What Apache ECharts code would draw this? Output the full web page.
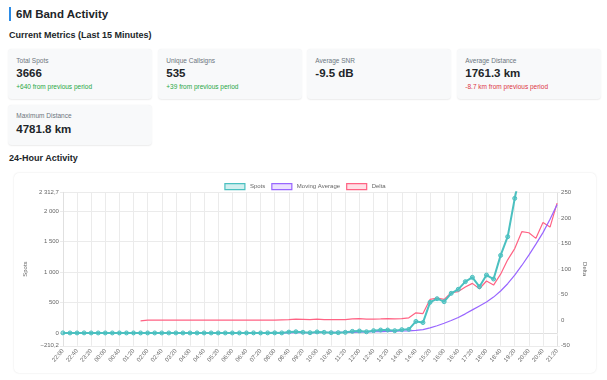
<!DOCTYPE html>
<html><head><meta charset="utf-8">
<script src="https://cdn.jsdelivr.net/npm/echarts@6/dist/echarts.min.js"></script>
<style>
html,body{margin:0;padding:0;background:#fff;width:607px;height:380px;overflow:hidden;font-family:"Liberation Sans",Arial,sans-serif;color:#212529;}
.title{position:absolute;left:9px;top:7px;height:14px;border-left:2.5px solid #2b8be6;padding-left:5px;font-size:11.5px;font-weight:bold;line-height:14px;}
.h2{position:absolute;left:9px;font-size:9px;font-weight:bold;line-height:11px;}
.card{position:absolute;width:144px;height:50px;background:#f8f9fa;border-radius:4px;box-shadow:0 0.5px 1.5px rgba(0,0,0,0.08);}
.lbl{position:absolute;left:8px;top:7.4px;font-size:6.5px;line-height:8px;color:#6c757d;white-space:nowrap;}
.val{position:absolute;left:8px;top:17px;font-size:11.5px;line-height:14px;font-weight:bold;white-space:nowrap;}
.chg{position:absolute;left:8px;top:33.7px;font-size:6.5px;line-height:8px;white-space:nowrap;}
.up{color:#28a745;} .down{color:#dc3545;}
.box{position:absolute;left:14px;top:173px;width:582px;height:200px;background:#fff;border-radius:5px;box-shadow:0 0 2px rgba(0,0,0,0.12);}
#chart{position:absolute;left:14px;top:173px;width:582px;height:200px;}
</style></head>
<body>
<div class="title">6M Band Activity</div>
<div class="h2" style="top:30px">Current Metrics (Last 15 Minutes)</div>
<div class="card" style="left:8.3px;top:49.3px"><div class="lbl">Total Spots</div><div class="val">3666</div><div class="chg up">+640 from previous period</div></div>
<div class="card" style="left:158.3px;top:49.3px"><div class="lbl">Unique Callsigns</div><div class="val">535</div><div class="chg up">+39 from previous period</div></div>
<div class="card" style="left:307.3px;top:49.3px"><div class="lbl">Average SNR</div><div class="val">-9.5 dB</div></div>
<div class="card" style="left:457.3px;top:49.3px"><div class="lbl">Average Distance</div><div class="val">1761.3 km</div><div class="chg down">-8.7 km from previous period</div></div>
<div class="card" style="left:8.3px;top:105px;height:40px"><div class="lbl">Maximum Distance</div><div class="val" style="top:17.3px">4781.8 km</div></div>
<div class="h2" style="top:152.5px">24-Hour Activity</div>
<div class="box"></div>
<div id="chart"></div>
<script>
const times = ["22:00","22:20","22:40","23:00","23:20","23:40","00:00","00:20","00:40","01:00","01:20","01:40","02:00","02:20","02:40","03:00","03:20","03:40","04:00","04:20","04:40","05:00","05:20","05:40","06:00","06:20","06:40","07:00","07:20","07:40","08:00","08:20","08:40","09:00","09:20","09:40","10:00","10:20","10:40","11:00","11:20","11:40","12:00","12:20","12:40","13:00","13:20","13:40","14:00","14:20","14:40","15:00","15:20","15:40","16:00","16:20","16:40","17:00","17:20","17:40","18:00","18:20","18:40","19:00","19:20","19:40","20:00","20:20","20:40","21:00","21:20"];
const spots = [2,1,1,2,1,1,1,1,1,1,1,1,1,1,1,1,1,1,1,1,1,1,1,1,1,1,1,2,1,2,3,2,15,20,12,5,18,11,6,6,11,27,33,20,38,49,49,38,55,60,190,172,504,564,515,652,718,844,915,761,953,887,1276,1583,2213,2750,2720,2560,3050,2900,3666];
const movingAvg = [1,1,1,1,1,1,1,1,1,1,1,1,1,1,1,1,1,1,1,1,1,1,1,1,1,1,1,1,1,2,2,2,3,5,5,6,7,8,9,9,10,12,15,18,21,24,27,30,33,36,42,55,85,120,160,205,255,315,380,445,510,590,690,810,950,1110,1280,1460,1650,1870,2110];
const delta = [null,null,null,null,null,null,null,null,null,null,null,-1.3,0,0,0,0,0,0,0,0,0,0,0,0,0,0,0,0,0,0,0,0.5,1,2,1.5,1,2,1.3,1,1,1.3,2.6,3.3,2,2,2.6,3.3,2.6,3.3,4.6,14.4,13,40.6,43,40.6,53.7,56,65,72,61.5,76.6,68.7,90,118,140,173,171,160,191,182,229];
const spotsAxis = {min:-210.2, max:2312.7};
const deltaAxis = {min:-50, max:250, step:50};

function fmt(v){
  const neg = v < 0;
  const s = (Math.round(Math.abs(v)*10)/10).toString();
  let [i,d] = s.split('.');
  i = i.replace(/\B(?=(\d{3})+(?!\d))/g,' ');
  return (neg?'\u2212':'') + i + (d ? ','+d : '');
}
const TEAL='rgb(75,192,192)', PURPLE='rgb(153,102,255)', PINK='rgb(255,99,132)';
const GRID='#ebebeb', TXT='#666';
const chart = echarts.init(document.getElementById('chart'), null, {renderer:'canvas'});
chart.setOption({
  animation:false,
  legend:{top:5,left:'center',itemWidth:20,itemHeight:6,itemGap:6,
    textStyle:{fontSize:6,color:TXT,fontFamily:'Liberation Sans'},
    data:[
      {name:'Spots',icon:'rect',itemStyle:{color:'rgba(75,192,192,0.25)',borderColor:TEAL,borderWidth:1.2}},
      {name:'Moving Average',icon:'rect',itemStyle:{color:'rgba(153,102,255,0.2)',borderColor:PURPLE,borderWidth:1.2}},
      {name:'Delta',icon:'rect',itemStyle:{color:'rgba(255,99,132,0.2)',borderColor:PINK,borderWidth:1.2}}
    ]},
  grid:{left:41,right:33,top:19.3,bottom:27.2},
  xAxis:{type:'category',data:times,boundaryGap:false,
    axisLabel:{interval:1,rotate:50,fontSize:6,color:TXT,margin:4,fontFamily:'Liberation Sans'},
    axisTick:{show:true,interval:1,length:3,lineStyle:{color:GRID}},
    axisLine:{lineStyle:{color:'#e0e0e0'}},
    splitLine:{show:true,interval:1,lineStyle:{color:GRID,width:1}}},
  yAxis:[
    {type:'value',min:spotsAxis.min,max:spotsAxis.max,name:'Spots',nameLocation:'middle',nameGap:29,
     nameTextStyle:{fontSize:6,color:TXT,fontFamily:'Liberation Sans'},
     axisLabel:{fontSize:6,color:TXT,margin:4,formatter:fmt,fontFamily:'Liberation Sans'},
     axisLine:{show:true,lineStyle:{color:'#e0e0e0'}},
     axisTick:{show:true,length:3,lineStyle:{color:GRID}},
     splitLine:{show:true,lineStyle:{color:GRID,width:1}}},
    {type:'value',position:'right',min:deltaAxis.min,max:deltaAxis.max,interval:deltaAxis.step,name:'Delta',nameLocation:'middle',nameRotate:-90,nameGap:18,
     nameTextStyle:{fontSize:6,color:TXT,fontFamily:'Liberation Sans'},
     axisLabel:{fontSize:6,color:TXT,margin:4,fontFamily:'Liberation Sans'},
     axisLine:{show:true,lineStyle:{color:'#e0e0e0'}},
     axisTick:{show:true,length:3,lineStyle:{color:GRID}},
     splitLine:{show:false}}
  ],
  series:[
    {name:'Delta',type:'line',yAxisIndex:1,data:delta,showSymbol:false,symbol:'none',z:2,
     lineStyle:{color:PINK,width:1.2},itemStyle:{color:PINK}},
    {name:'Moving Average',type:'line',yAxisIndex:0,data:movingAvg,showSymbol:false,symbol:'none',z:3,
     lineStyle:{color:PURPLE,width:1.2},itemStyle:{color:PURPLE}},
    {name:'Spots',type:'line',yAxisIndex:0,data:spots,symbol:'circle',symbolSize:4,showSymbol:true,z:4,
     lineStyle:{color:TEAL,width:2},itemStyle:{color:'rgba(75,192,192,0.55)',borderColor:TEAL,borderWidth:1}}
  ]
});
</script>
</body></html>
